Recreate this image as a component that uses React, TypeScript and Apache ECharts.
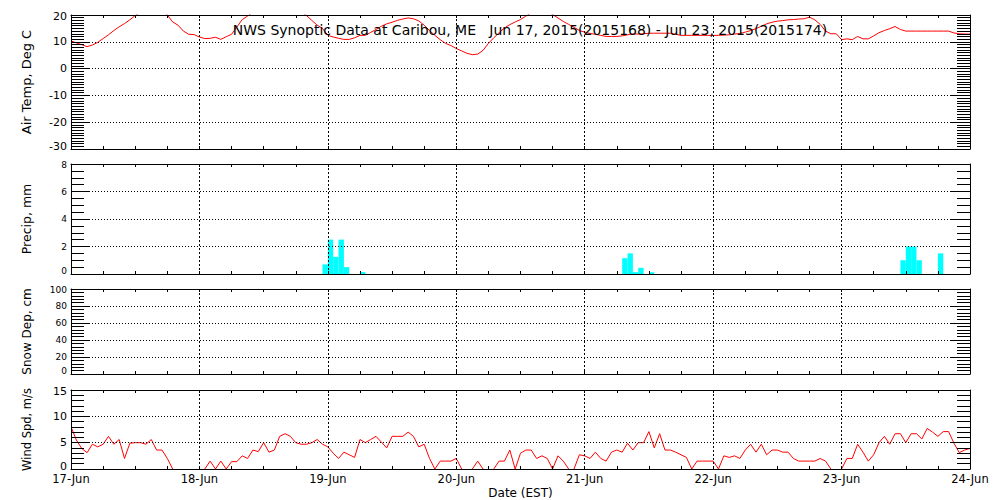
import React, { useEffect, useRef } from 'react';
import * as echarts from 'echarts';

const FONT = '"DejaVu Sans", Verdana, sans-serif';

const titleText = 'NWS Synoptic Data at Caribou, ME   Jun 17, 2015(2015168) - Jun 23, 2015(2015174)';
const dayLabels = ['17-Jun', '18-Jun', '19-Jun', '20-Jun', '21-Jun', '22-Jun', '23-Jun', '24-Jun'];
const panelNames = ['Air Temp, Deg C', 'Precip, mm', 'Snow Dep, cm', 'Wind Spd, m/s'];
const yMins = [-30, 0, 0, 0];
const yMaxs = [20, 8, 100, 15];
const yIntervals = [10, 2, 20, 5];
const yMinorSplits = [10, 4, 5, 5];
const xAxisName = 'Date (EST)';

// hourly air temperature, deg C (hour 0 = 17-Jun 00:00 EST)
const tempC = [
  10.3, 9.6, 8.9, 8.2, 8.8, 9.8, 11.2, 12.6, 14.2, 15.6,
  16.8, 18.2, 19.8, 21.0, 22.0, 22.6, 22.8, 22.0, 20.0, 17.4,
  16.2, 14.0, 12.8, 12.7, 11.8, 11.2, 11.3, 11.7, 10.9, 11.9,
  12.8, 15.5, 18.3, 19.6, 21.0, 22.5, 23.5, 24.3, 24.8, 25.0,
  24.6, 23.8, 22.5, 21.2, 19.8, 18.0, 16.2, 15.0, 12.4, 11.8,
  11.3, 10.9, 10.9, 11.5, 12.4, 12.4, 13.5, 14.6, 15.8, 16.7,
  17.3, 18.0, 18.5, 18.9, 18.6, 17.8, 16.2, 14.2, 12.4, 10.8,
  9.4, 8.6, 7.5, 6.6, 5.7, 5.2, 5.4, 6.8, 9.4, 11.5,
  13.4, 15.2, 16.4, 17.4, 18.3, 19.6, 20.8, 21.6, 21.8, 21.2,
  20.2, 18.9, 17.6, 16.5, 15.4, 14.2, 13.6, 13.1, 12.8, 12.4,
  12.0, 12.0, 12.0, 12.2, 12.6, 12.9, 12.9, 13.0, 13.2, 13.2,
  13.2, 13.2, 13.2, 12.8, 12.4, 12.4, 12.4, 12.4, 12.4, 12.4,
  12.4, 12.4, 12.5, 12.6, 12.9, 13.1, 13.6, 14.2, 14.9, 15.8,
  16.7, 17.3, 17.7, 17.9, 18.2, 18.3, 18.5, 18.6, 19.2, 18.2,
  16.5, 14.0, 13.0, 13.0, 10.8, 11.1, 10.8, 12.0, 11.1, 11.1,
  12.2, 13.4, 14.2, 14.9, 15.7, 14.6, 14.0, 14.0, 14.0, 14.0,
  14.0, 14.0, 14.0, 14.0, 14.0, 13.3, 13.0, 12.9, 12.9,
];

// hourly precipitation, mm (only hours with precipitation)
const precipHours = [47, 48, 49, 50, 51, 54, 103, 104, 105, 106, 108, 155, 156, 157, 158, 162];
const precipMm = [0.7, 2.5, 1.25, 2.5, 0.5, 0.15, 1.15, 1.5, 0.13, 0.45, 0.13, 1.0, 2.0, 2.0, 1.0, 1.5];

// hourly wind speed, m/s
const windMs = [
  8.0, 5.5, 3.9, 3.1, 4.7, 4.2, 4.7, 6.2, 4.7, 5.6,
  2.0, 4.9, 5.0, 5.0, 4.7, 5.6, 3.6, 3.6, 2.0, 0,
  0, 0, 0, 0, 0, 0, 1.5, 0, 1.5, 0,
  1.4, 1.4, 2.5, 2.0, 3.6, 3.3, 5.0, 3.2, 3.6, 6.2,
  6.7, 6.2, 5.0, 4.7, 4.7, 5.0, 5.6, 4.7, 4.2, 3.0,
  2.0, 3.2, 2.7, 2.2, 5.6, 5.0, 5.6, 6.2, 5.1, 4.0,
  6.2, 6.2, 6.2, 7.0, 6.2, 4.2, 4.7, 2.0, 0, 1.5,
  1.5, 1.5, 2.0, 0, 0, 0, 1.5, 0, 0, 0,
  1.5, 1.5, 3.6, 0, 3.0, 3.6, 3.6, 2.0, 2.5, 2.0,
  0, 2.5, 1.5, 0, 0, 2.7, 2.5, 2.0, 3.2, 2.0,
  1.5, 3.2, 3.6, 3.2, 4.9, 3.6, 5.0, 5.0, 7.1, 4.0,
  6.7, 3.6, 3.6, 3.2, 2.7, 2.2, 0, 1.5, 1.5, 1.5,
  1.5, 0, 2.5, 2.2, 2.5, 2.0, 3.6, 4.7, 3.2, 4.7,
  2.7, 3.6, 3.6, 3.2, 3.2, 2.0, 1.5, 1.5, 1.5, 1.5,
  2.0, 1.5, 0, 0, 0, 2.0, 2.0, 4.7, 3.2, 1.5,
  2.7, 5.0, 6.2, 4.7, 6.7, 6.7, 5.0, 6.7, 6.7, 5.7,
  7.7, 7.0, 6.2, 7.1, 7.1, 4.9, 3.1, 3.6, 3.9,
];

// layout
const panelTops = [15, 164, 289, 390];
const panelHeights = [134, 110, 85, 79];
const labelSizes = [11, 9, 9, 11];
const nameSizes = [13, 12.5, 12, 11.5];

export default function App() {
  const ref = useRef<HTMLDivElement>(null);

  useEffect(() => {
    if (!ref.current) return;
    const chart = echarts.init(ref.current, null, { renderer: 'svg' });
    const black = '#000000';

    const grids = panelTops.map((t, i) => ({ left: 71, width: 899, top: t, height: panelHeights[i] }));

    const xAxes: any[] = [];
    const yAxes: any[] = [];
    panelTops.forEach((_, i) => {
      const isLast = i === panelTops.length - 1;
      const baseX = {
        type: 'value',
        gridIndex: i,
        min: 0,
        max: 168,
        interval: 24,
        z: 3,
        axisLine: { show: true, onZero: false, lineStyle: { color: black, width: 1 } },
        axisTick: { show: true, inside: true, length: 3, lineStyle: { color: black, width: 1 } },
        minorTick: { show: true, splitNumber: 4, length: 3, lineStyle: { color: black, width: 1 } },
      };
      xAxes.push({
        ...baseX,
        position: 'bottom',
        splitLine: { show: true, lineStyle: { color: black, width: 1, type: [2, 2] } },
        axisLabel: isLast
          ? {
              show: true,
              color: black,
              fontSize: 11.5,
              fontFamily: FONT,
              margin: 4,
              showMinLabel: true,
              showMaxLabel: true,
              formatter: (v: number) => dayLabels[Math.round(v / 24)] ?? '',
            }
          : { show: false },
        name: isLast ? xAxisName : '',
        nameLocation: 'middle',
        nameGap: 18,
        nameTextStyle: { color: black, fontSize: 12, fontFamily: FONT },
      });
      xAxes.push({
        ...baseX,
        position: 'top',
        splitLine: { show: false },
        axisLabel: { show: false },
      });
      const baseY = {
        type: 'value',
        gridIndex: i,
        min: yMins[i],
        max: yMaxs[i],
        interval: yIntervals[i],
        z: 3,
        axisLine: { show: true, onZero: false, lineStyle: { color: black, width: 1 } },
        axisTick: { show: true, inside: true, length: 19, lineStyle: { color: black, width: 1 } },
        minorTick: { show: true, splitNumber: yMinorSplits[i], length: 13, lineStyle: { color: black, width: 1 } },
      };
      const fs = labelSizes[i];
      const lo = yMins[i];
      const hi = yMaxs[i];
      yAxes.push({
        ...baseY,
        position: 'left',
        splitLine: { show: true, lineStyle: { color: black, width: 1, type: [1, 2] } },
        axisLabel: {
          show: true,
          color: black,
          fontSize: fs,
          fontFamily: FONT,
          margin: 4,
          showMinLabel: true,
          showMaxLabel: true,
          formatter: (v: number) => (v === lo ? `{lo|${v}}` : v === hi ? `{hi|${v}}` : `${v}`),
          rich: {
            lo: { fontSize: fs, fontFamily: FONT, color: black, padding: [0, 0, 6, 0] },
            hi: { fontSize: fs, fontFamily: FONT, color: black, padding: [2, 0, 0, 0] },
          },
        },
        name: panelNames[i],
        nameLocation: 'middle',
        nameGap: 38,
        nameTextStyle: { color: black, fontSize: nameSizes[i], fontFamily: FONT },
      });
      yAxes.push({
        ...baseY,
        position: 'right',
        splitLine: { show: false },
        axisLabel: { show: false },
      });
    });

    chart.setOption({
      animation: false,
      backgroundColor: '#ffffff',
      textStyle: { fontFamily: FONT },
      grid: grids,
      xAxis: xAxes,
      yAxis: yAxes,
      graphic: [
        {
          type: 'text',
          x: 530,
          y: 30,
          z: 10,
          style: {
            text: titleText,
            fill: black,
            font: `14px ${FONT}`,
            align: 'center',
            verticalAlign: 'middle',
          },
        },
      ],
      series: [
        {
          type: 'line',
          xAxisIndex: 0,
          yAxisIndex: 0,
          z: -1,
          data: tempC.map((v, h) => [h, v]),
          symbol: 'none',
          showSymbol: false,
          clip: true,
          lineStyle: { color: '#ff0000', width: 1 },
        },
        {
          type: 'custom',
          xAxisIndex: 2,
          yAxisIndex: 2,
          z: -1,
          data: precipHours.map((h, k) => [h, precipMm[k]]),
          renderItem: (params: any, api: any) => {
            const h = api.value(0);
            const v = api.value(1);
            const p0 = api.coord([h, 0]);
            const p1 = api.coord([h + 1, v]);
            return {
              type: 'rect',
              shape: { x: p0[0], y: p1[1], width: p1[0] - p0[0], height: p0[1] - p1[1] },
              style: { fill: '#00ffff' },
            };
          },
        },
        {
          // wind line drawn hour by hour; calm stretches lie hidden under the axis
          type: 'custom',
          xAxisIndex: 6,
          yAxisIndex: 6,
          z: -1,
          clip: true,
          data: windMs.map((v, h) => [h, v, h + 1 < windMs.length ? windMs[h + 1] : v]),
          renderItem: (params: any, api: any) => {
            const h = api.value(0);
            const v = api.value(1);
            const next = api.value(2);
            if (h >= windMs.length - 1) return null;
            if (v === 0 && next === 0) return null;
            const a = api.coord([h, v]);
            const b = api.coord([h + 1, next]);
            return {
              type: 'line',
              shape: { x1: a[0], y1: a[1], x2: b[0], y2: b[1] },
              style: { stroke: '#ff0000', lineWidth: 1 },
            };
          },
        },
      ],
    });

    return () => chart.dispose();
  }, []);

  return (
    <div
      ref={ref}
      style={{ position: 'absolute', left: 0, top: 0, width: 1000, height: 500, background: '#ffffff' }}
    />
  );
}
